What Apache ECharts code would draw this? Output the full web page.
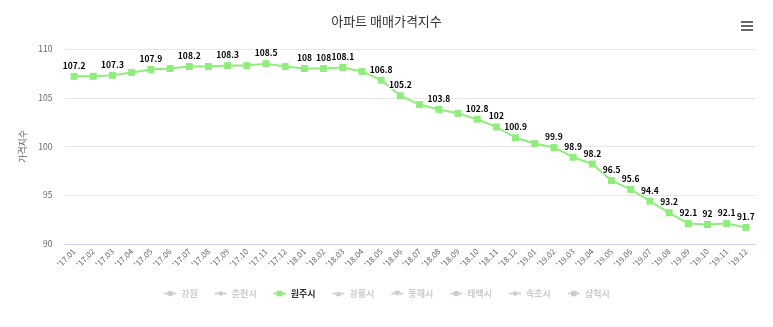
<!DOCTYPE html>
<html><head><meta charset="utf-8">
<script src="https://cdn.jsdelivr.net/npm/echarts@6/dist/echarts.min.js"></script>
<style>html,body{margin:0;padding:0;background:#fff}#c{width:773px;height:327px}</style>
</head><body><div id="c"></div>
<script>
const categories = ["'17.01","'17.02","'17.03","'17.04","'17.05","'17.06","'17.07","'17.08","'17.09","'17.10","'17.11","'17.12",
"'18.01","'18.02","'18.03","'18.04","'18.05","'18.06","'18.07","'18.08","'18.09","'18.10","'18.11","'18.12",
"'19.01","'19.02","'19.03","'19.04","'19.05","'19.06","'19.07","'19.08","'19.09","'19.10","'19.11","'19.12"];
const wonjuValues = [107.2,107.2,107.3,107.6,107.9,108.0,108.2,108.2,108.3,108.3,108.5,108.2,
108.0,108.0,108.1,107.7,106.8,105.2,104.3,103.8,103.4,102.8,102.0,100.9,
100.3,99.9,98.9,98.2,96.5,95.6,94.4,93.2,92.1,92.0,92.1,91.7];
const labeledMonths = ["'17.01","'17.03","'17.05","'17.07","'17.09","'17.11","'18.01","'18.02","'18.03","'18.05","'18.06","'18.08",
"'18.10","'18.11","'18.12","'19.02","'19.03","'19.04","'19.05","'19.06","'19.07","'19.08","'19.09","'19.10","'19.11","'19.12"];
const legendNames = ['강원','춘천시','원주시','강릉시','동해시','태백시','속초시','삼척시'];
const legendSymbols = ['circle','diamond','rect','triangle','path://M0,0L10,0L5,10Z','circle','diamond','rect'];
const palette = ['#7cb5ec','#434348','#90ed7d','#f7a35c','#8085e9','#f15c80','#e4d354','#2b908f'];
const yTicks = {min:90,max:110,interval:5};

const FONT = '"Noto Sans CJK KR","Noto Sans",sans-serif';
const chart = echarts.init(document.getElementById('c'));
const selected = {};
legendNames.forEach(n => selected[n] = (n === '원주시'));

const series = legendNames.map((name, i) => {
  const isMain = name === '원주시';
  return {
    name, type: 'line',
    symbol: legendSymbols[i], symbolSize: 7,
    color: palette[i],
    lineStyle: {width: 2},
    itemStyle: {color: palette[i]},
    emphasis: {disabled: true},
    animation: false,
    data: isMain ? wonjuValues.map((v, k) => ({
      value: v,
      label: {show: labeledMonths.includes(categories[k])}
    })) : [],
    label: {
      position: 'top', distance: 3,
      fontFamily: FONT, fontSize: 8.5, fontWeight: 'bold', color: '#000',
      textBorderColor: '#fff', textBorderWidth: 2
    }
  };
});

chart.setOption({
  animation: false,
  title: {
    text: '아파트 매매가격지수', left: 'center', top: 10,
    textStyle: {fontFamily: FONT, fontSize: 13, fontWeight: 'normal', color: '#333'}
  },
  legend: {
    data: legendNames, selected, bottom: 24, left: 'center',
    itemWidth: 12, itemHeight: 7, itemGap: 16,
    inactiveColor: '#cccccc',
    textStyle: {fontFamily: FONT, fontSize: 9, color: '#333', fontWeight: 'bold'},
    selectedMode: true
  },
  grid: {left: 64.5, right: 17.5, top: 49, bottom: 83, containLabel: false},
  xAxis: {
    type: 'category', data: categories, boundaryGap: true,
    axisLine: {lineStyle: {color: '#ccd6eb'}},
    axisTick: {show: false},
    axisLabel: {rotate: 45, interval: 0, fontFamily: FONT, fontSize: 8, color: '#666', margin: 6}
  },
  yAxis: {
    type: 'value', min: yTicks.min, max: yTicks.max, interval: yTicks.interval,
    name: '가격지수', nameLocation: 'middle', nameGap: 29, nameRotate: 90,
    nameTextStyle: {fontFamily: FONT, fontSize: 9, color: '#666'},
    axisLine: {show: false}, axisTick: {show: false},
    splitLine: {lineStyle: {color: '#e6e6e6'}},
    axisLabel: {fontFamily: FONT, fontSize: 8.5, color: '#666', margin: 12}
  },
  graphic: [
    {type: 'rect', right: 20, top: 21, shape: {width: 12, height: 2}, style: {fill: '#666'}},
    {type: 'rect', right: 20, top: 25, shape: {width: 12, height: 2}, style: {fill: '#666'}},
    {type: 'rect', right: 20, top: 29, shape: {width: 12, height: 2}, style: {fill: '#666'}}
  ],
  series
});
</script></body></html>
